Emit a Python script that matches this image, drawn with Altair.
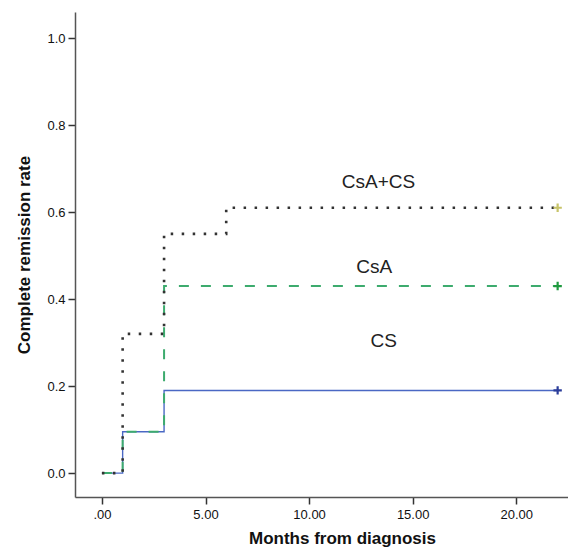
import altair as alt
import pandas as pd

# Step data (Kaplan-Meier style cumulative remission)
cs_t = [0, 1, 3, 22]
cs_v = [0.0, 0.095, 0.19, 0.19]
csa_t = [0, 1, 3, 22]
csa_v = [0.0, 0.095, 0.43, 0.43]
combo_t = [0, 1, 3, 6, 22]
combo_v = [0.0, 0.32, 0.55, 0.61, 0.61]

series_names = ["CS", "CsA", "CsA+CS"]
label_x = [13.6, 13.15, 13.35]
label_y = [0.303, 0.474, 0.669]

x_ticks = [0, 5, 10, 15, 20]
y_ticks = [0.0, 0.2, 0.4, 0.6, 0.8, 1.0]

FONT = "Liberation Sans"

x_scale = alt.Scale(domain=[-1.3, 22.5], nice=False, zero=False)
y_scale = alt.Scale(domain=[-0.055, 1.06], nice=False, zero=False)

x_axis = alt.Axis(values=x_ticks, format=".2f", labelExpr="replace(datum.label, /^0\\./, '.')",
                  title="Months from diagnosis", titleFontSize=17, titleFontWeight="bold",
                  titleFont=FONT, labelFont=FONT, labelFontSize=13, labelColor="#111",
                  titleColor="#111", grid=False, tickSize=7, tickColor="#333", tickWidth=1.5,
                  domainColor="#555", domainWidth=1.5, labelPadding=4, titlePadding=9,
                  titleX=267)
y_axis = alt.Axis(values=y_ticks, format=".1f",
                  title="Complete remission rate", titleFontSize=17, titleFontWeight="bold",
                  titleFont=FONT, labelFont=FONT, labelFontSize=13, labelColor="#111",
                  titleColor="#111", grid=False, tickSize=7, tickColor="#333", tickWidth=1.5,
                  domainColor="#555", domainWidth=1.5, labelPadding=3, titlePadding=13)

X_T = alt.X("t:Q", scale=x_scale, axis=x_axis)
Y_V = alt.Y("v:Q", scale=y_scale, axis=y_axis)

styles = {
    "CS": dict(color="#4a68c4", strokeWidth=1.4, dash=[1, 0], mark_color="#2b3d9a"),
    "CsA": dict(color="#3dab6e", strokeWidth=2.0, dash=[10, 12], mark_color="#1f9a3f"),
    "CsA+CS": dict(color="#333333", strokeWidth=2.6, dash=[2.5, 8.5], mark_color="#c8c46a"),
}

data_map = {
    "CS": (cs_t, cs_v),
    "CsA": (csa_t, csa_v),
    "CsA+CS": (combo_t, combo_v),
}

layers = []
for name in series_names:
    t, v = data_map[name]
    df = pd.DataFrame({"t": t, "v": v})
    st = styles[name]
    line = alt.Chart(df).mark_line(
        interpolate="step-after", color=st["color"], strokeWidth=st["strokeWidth"],
        strokeDash=st["dash"], clip=False
    ).encode(x=X_T, y=Y_V)
    layers.append(line)

for name in series_names:
    t, v = data_map[name]
    st = styles[name]
    end_df = pd.DataFrame({"t": [t[-1]], "v": [v[-1]]})
    plus = alt.Chart(end_df).mark_point(
        shape="M-1,0L1,0M0,-1L0,1", size=70, strokeWidth=2.2, filled=False,
        color=st["mark_color"], opacity=1
    ).encode(x=X_T, y=Y_V)
    layers.append(plus)

lab_df = pd.DataFrame({"t": label_x, "v": label_y, "label": series_names})
labels = alt.Chart(lab_df).mark_text(
    font=FONT, fontSize=19, color="#222", align="center", baseline="middle"
).encode(x=X_T, y=Y_V, text="label:N")
layers.append(labels)

chart = alt.layer(*layers).properties(
    width=493, height=485,
    autosize=alt.AutoSizeParams(type="none"),
    padding={"left": 75, "top": 12, "right": 0, "bottom": 52},
    background="white",
).configure_view(stroke=None)

chart.save("out.html", embed_options={"renderer": "svg", "actions": False})
